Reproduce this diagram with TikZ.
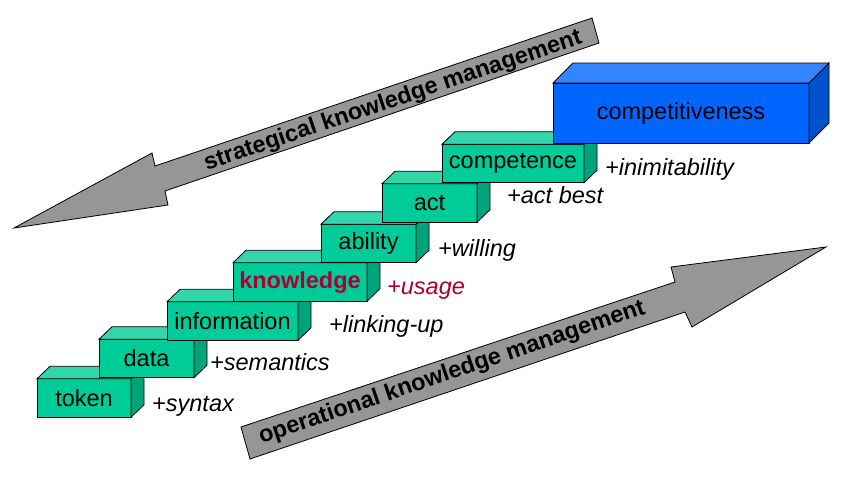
\documentclass[tikz,border=0pt]{standalone}
\usepackage{fontspec}
\setmainfont{Liberation Sans}
\usetikzlibrary{calc}
\definecolor{gfront}{RGB}{0,204,153}
\definecolor{gtop}{RGB}{51,214,170}
\definecolor{gside}{RGB}{0,163,122}
\definecolor{bfront}{RGB}{0,102,255}
\definecolor{btop}{RGB}{51,133,255}
\definecolor{bside}{RGB}{0,82,204}
\definecolor{arrgray}{RGB}{150,150,150}
\definecolor{kred}{RGB}{170,0,51}
\newcommand\boxfaces[4]{%
  \draw[facestyle,fill=#4] (#1.north east) -- ++(#2) -- ($(#1.south east)+(#2)$) -- (#1.south east) -- cycle;
  \draw[facestyle,fill=#3] (#1.north west) -- ++(#2) -- ($(#1.north east)+(#2)$) -- (#1.north east) -- cycle;}
\tikzset{
  facestyle/.style={draw=black,line width=0.8pt,line join=miter},
  gbox/.style={facestyle,fill=gfront,inner sep=0pt,outer sep=0pt,minimum height=38.5pt,
    font=\fontsize{23.5}{28}\selectfont},
  lbl/.style={anchor=base west,inner sep=0pt,font=\fontsize{23.5}{28}\selectfont\itshape},
  arrtxt/.style={inner sep=0pt,font=\fontsize{23.5}{28}\selectfont\bfseries,rotate=18.7},
  bigarrow/.style={draw=black,line width=0.8pt,fill=arrgray,line join=miter}
}
\begin{document}
\begin{tikzpicture}[x=1pt,y=-1pt]
\useasboundingbox (0,0) rectangle (841,479);
\fill[white] (0,0) rectangle (841,479);
% strategical arrow
\draw[bigarrow] (592,18) -- (599,43) -- (165,191) -- (168,205) -- (14,228) -- (152,153) -- (155,166) -- cycle;
\node[arrtxt] (strat) at (393,101) {strategical knowledge management};
% operational arrow
\draw[bigarrow] (241,427) -- (250,459) -- (685,312) -- (692,327) -- (826,247) -- (671,267) -- (675,282) -- cycle;
\node[arrtxt] (oper) at (452,373) {operational knowledge management};
% steps
\node[gbox,minimum width=94pt] (token) at (84,398) {token};
\boxfaces{token}{13,-12.5}{gtop}{gside}
\node[gbox,minimum width=95pt] (data) at (146.5,358.5) {data};
\boxfaces{data}{13,-12.5}{gtop}{gside}
\node[gbox,minimum width=131pt] (information) at (232.5,321) {information};
\boxfaces{information}{13,-12.5}{gtop}{gside}
\node[gbox,minimum width=134pt,text=kred,font=\fontsize{23.5}{28}\selectfont\bfseries] (knowledge) at (300,282) {knowledge};
\boxfaces{knowledge}{13,-12.5}{gtop}{gside}
\node[gbox,minimum width=95pt] (ability) at (368.5,243.5) {ability};
\boxfaces{ability}{13,-12.5}{gtop}{gside}
\node[gbox,minimum width=95pt] (act) at (429.5,203) {act};
\boxfaces{act}{13,-12.5}{gtop}{gside}
\node[gbox,minimum width=142pt] (competence) at (513,163.5) {competence};
\boxfaces{competence}{13,-12.5}{gtop}{gside}
\node[gbox,fill=bfront,minimum width=256pt,minimum height=60pt] (compet) at (681,113) {competitiveness};
\boxfaces{compet}{20,-20}{btop}{bside}
% labels
\node[lbl] (l1) at (152,411) {+syntax};
\node[lbl] (l2) at (210,370) {+semantics};
\node[lbl] (l3) at (329,332) {+linking-up};
\node[lbl,text=kred] (l4) at (387,294) {+usage};
\node[lbl] (l5) at (438,256) {+willing};
\node[lbl] (l6) at (507,203) {+act best};
\node[lbl] (l7) at (605,175) {+inimitability};
\end{tikzpicture}
\end{document}
